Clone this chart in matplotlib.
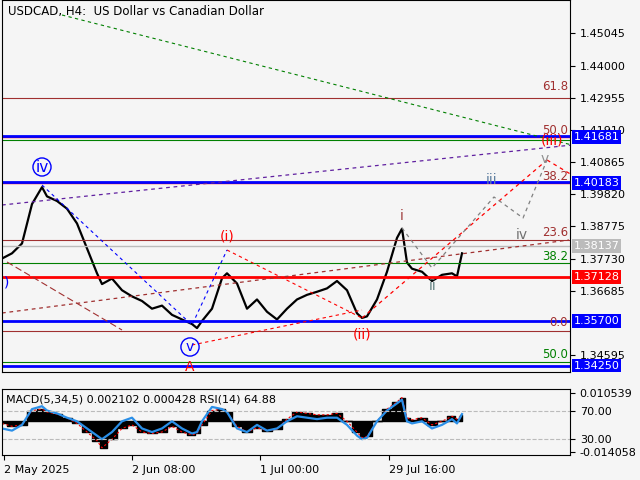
import matplotlib.pyplot as plt
import numpy as np

# price path waypoints (bar position, price)
bar_x = [0, 10, 20, 30, 40, 45, 55, 65, 75, 85, 95, 100, 110, 120, 130, 140, 150, 160, 170,
         180, 190, 195, 200, 210, 220, 225, 235, 245, 255, 265, 275, 285, 295, 305, 315, 325,
         335, 345, 355, 360, 365, 375, 385, 395, 400, 405, 410, 420, 430, 440, 450, 455, 460]
close = [1.3773, 1.3790, 1.3822, 1.3950, 1.4005, 1.3975, 1.3960, 1.3935, 1.3887, 1.3806, 1.3725,
         1.3690, 1.3708, 1.3670, 1.3650, 1.3635, 1.3610, 1.3620, 1.3590, 1.3575, 1.3560, 1.3547,
         1.3570, 1.3610, 1.3709, 1.3725, 1.3692, 1.3610, 1.3640, 1.3600, 1.3575, 1.3610, 1.3640,
         1.3655, 1.3665, 1.3676, 1.3700, 1.3670, 1.3595, 1.3580, 1.3585, 1.3640, 1.3730, 1.3840,
         1.3870, 1.3760, 1.3740, 1.3730, 1.3700, 1.3720, 1.3725, 1.3715, 1.3790]

# indicator waypoints (same bars): RSI and MACD histogram (scaled to RSI space)
rsi = [45, 42, 50, 72, 76, 70, 66, 60, 55, 45, 35, 30, 40, 55, 60, 45, 40, 45, 55, 45, 38, 40,
       55, 75, 72, 68, 45, 40, 50, 42, 45, 55, 62, 60, 58, 60, 60, 50, 35, 30, 32, 55, 70, 80,
       85, 55, 52, 55, 45, 50, 58, 52, 65]
macd = [52, 48, 50, 70, 72, 68, 65, 60, 52, 40, 28, 18, 30, 45, 50, 40, 38, 40, 48, 40, 36, 38,
        50, 70, 72, 68, 48, 40, 46, 42, 44, 58, 68, 66, 64, 64, 66, 55, 40, 32, 34, 55, 72, 82,
        88, 60, 57, 60, 50, 55, 62, 58, 64]

price_labels = ['1.45045', '1.44000', '1.42955', '1.41910', '1.40865', '1.39820',
                '1.38775', '1.37730', '1.36685', '1.34595']
price_ticks = [float(p) for p in price_labels]

def py(y):  # convert picture row to price for guide lines
    return 1.35700 + (321 - y) * 0.000325

bg = '#f5f5f5'
fig = plt.figure(figsize=(6.4, 4.8), dpi=100, facecolor=bg)
ax = fig.add_axes([2/640, 1 - 372/480, 568/640, 372/480], facecolor=bg)
ax.set_xlim(0, 568)
ax.set_ylim(py(372), py(0))
ax.plot(bar_x, close, color='black', lw=1.6)

# horizontal levels
levels = [(1.4295, '#a03030', 0.8), (1.41681, 'red', 1.0), (1.41681 + 0.0003, 'blue', 2.0),
          (py(140), 'green', 0.8), (1.40183, 'red', 1.0), (1.40183 + 0.0003, 'blue', 2.0),
          (py(240), '#a03030', 0.8), (1.38137, '#bbbbbb', 1.0), (py(263), 'green', 0.8),
          (1.37128, 'red', 2.0), (1.35700, 'blue', 2.0), (py(331), '#a03030', 0.8),
          (py(362), 'green', 0.8), (1.34250, 'blue', 2.0)]
for yv, c, w in levels:
    ax.axhline(yv, color=c, lw=w)

# trend/wave lines
ax.plot([60, 570], [py(15), py(145)], color='green', ls=(0, (3, 3)), lw=0.8)
ax.plot([0, 570], [py(205), py(145)], color='#6020a0', ls=(0, (3, 3)), lw=0.9)
ax.plot([0, 567], [py(313), py(240)], color='#a03030', ls=(0, (3, 3)), lw=0.9)
ax.plot([360, 545], [py(318), py(160)], color='red', ls=(0, (3, 3)), lw=0.9)
ax.plot([545, 570], [py(160), py(175)], color='red', ls=(0, (3, 3)), lw=0.9)
ax.plot([5, 120], [py(262), py(330)], color='#a03030', ls=(0, (6, 3)), lw=0.8)
ax.plot([190, 360], [py(345), py(310)], color='red', ls=(0, (3, 3)), lw=0.8)
ax.plot([225, 360], [py(250), py(318)], color='red', ls=(0, (3, 3)), lw=0.8)
ax.plot([40, 190, 225], [py(185), py(325), py(250)], color='blue', ls=(0, (3, 3)), lw=0.8)
ax.plot([400, 430, 492, 521, 545], [py(228), py(268), py(197), py(218), py(160)],
        color='gray', ls=(0, (3, 3)), lw=0.9)

# wave labels
ax.text(40, py(167), 'iv', color='blue', fontsize=11, ha='center', va='center',
        bbox=dict(boxstyle='circle,pad=0.1', fc='none', ec='blue'))
ax.text(188, py(347), 'v', color='blue', fontsize=10, ha='center', va='center',
        bbox=dict(boxstyle='circle,pad=0.15', fc='none', ec='blue'))
ax.text(2, py(282), ')', color='blue', fontsize=10, ha='left', va='center')
for x, y, s, c in [(188, 367, 'A', 'red'), (225, 237, '(i)', 'red'), (360, 335, '(ii)', 'red'),
                   (400, 216, 'i', '#a04040'), (431, 286, 'ii', '#608080'),
                   (490, 180, 'iii', '#5f7fa0'), (520, 235, 'iv', '#707070'),
                   (543, 159, 'v', '#909090'), (550, 141, '(iii)', 'red')]:
    ax.text(x, py(y), s, color=c, fontsize=10, ha='center', va='center')
for y, s, c in [(86, '61.8', '#a03030'), (130, '50.0', '#a03030'), (176, '38.2', '#a03030'),
                (233, '23.6', '#a03030'), (256, '38.2', 'green'), (323, '0.0', '#a03030'),
                (354, '50.0', 'green')]:
    ax.text(566, py(y), s, color=c, fontsize=8.5, ha='right', va='center')
ax.text(6, py(12), 'USDCAD, H4:  US Dollar vs Canadian Dollar', fontsize=8.5, va='center')

ax.yaxis.tick_right()
ax.set_yticks(price_ticks)
ax.set_yticklabels(price_labels, fontsize=8)
ax.set_xticks([])
for yv, s, c, tc in [(1.41681, '1.41681', 'blue', 'white'), (1.40183, '1.40183', 'blue', 'white'),
                     (1.38137, '1.38137', '#bbbbbb', 'white'), (1.37128, '1.37128', 'red', 'white'),
                     (1.35700, '1.35700', 'blue', 'white'), (1.34250, '1.34250', 'blue', 'white')]:
    ax.text(1.006, yv, s, transform=ax.get_yaxis_transform(), fontsize=8, color=tc,
            va='center', ha='left', zorder=10,
            bbox=dict(boxstyle='square,pad=0.15', fc=c, ec='none'))

# indicator panel
ax2 = fig.add_axes([2/640, 1 - 455/480, 568/640, 66/480], facecolor=bg)
ax2.set_xlim(0, 568)
ax2.set_ylim(8, 100)
ax2.fill_between(bar_x, 55, macd, color='black', step='mid')
ax2.plot(bar_x, macd, color='red', ls=(0, (2, 2)), lw=0.8)
ax2.plot(bar_x, rsi, color='#2a8fe8', lw=1.6)
for lv in (30, 70):
    ax2.axhline(lv, color='#bbbbbb', ls='--', lw=0.8)
ax2.yaxis.tick_right()
ax2.set_yticks([95, 70, 30, 12])
ax2.set_yticklabels(['0.010539', '70.00', '30.00', '-0.014058'], fontsize=8)
ax2.text(4, 86, 'MACD(5,34,5) 0.002102 0.000428 RSI(14) 64.88', fontsize=8, va='center')
ax2.set_xticks([2, 130, 258, 387])
ax2.set_xticklabels(['2 May 2025', '2 Jun 08:00', '1 Jul 00:00', '29 Jul 16:00'], fontsize=8, ha='left')

fig.savefig('out.png', dpi=100, facecolor=bg)
